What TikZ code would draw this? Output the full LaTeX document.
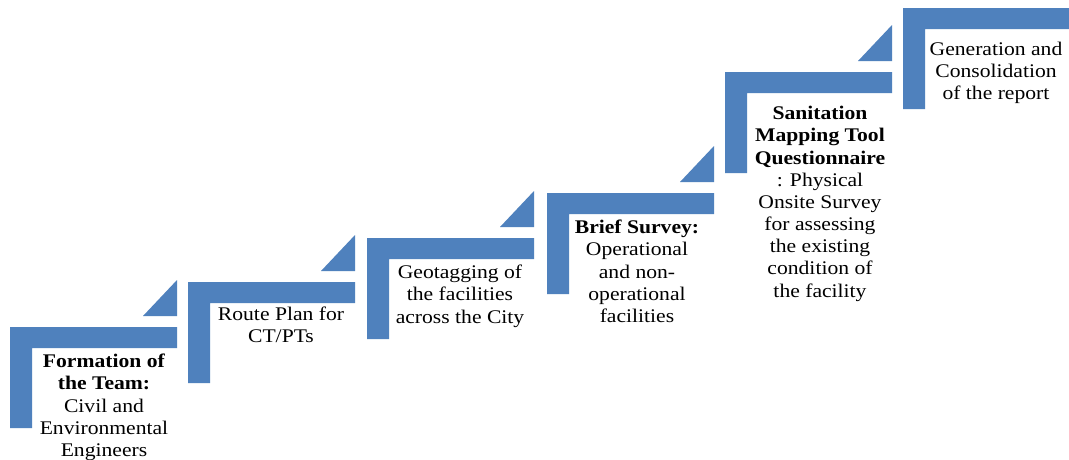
\documentclass[tikz,border=0pt]{standalone}
\usepackage{fontspec}
\setmainfont{Liberation Serif}[FakeStretch=1.12]
\definecolor{stepblue}{HTML}{4F81BD}
\tikzset{
  stepshape/.style={fill=stepblue, draw=none},
  steptext/.style={anchor=north, align=center, inner sep=0pt, font=\fontsize{19.3}{22.2}\selectfont, text=black}
}
\newcommand{\stepL}[2]{%
  \fill[stepshape] (#1,#2) -- ++(167,0) -- ++(0,21) -- ++(-145,0) -- ++(0,80) -- ++(-22,0) -- cycle;}
\newcommand{\stepTri}[2]{%
  \fill[stepshape] ({#1+167},{#2-11}) -- ++(0,-36) -- ++(-34,36) -- cycle;}
\begin{document}
\begin{tikzpicture}[x=1pt,y=-1pt]
\useasboundingbox (0,0) rectangle (1069,459);
\fill[white] (0,0) rectangle (1069,459);
% step shapes
\stepL{10}{327}\stepTri{10}{327}
\stepL{188}{282}\stepTri{188}{282}
\stepL{367}{238}\stepTri{367}{238}
\stepL{547}{193}\stepTri{547}{193}
\stepL{725}{72}\stepTri{725}{72}
\stepL{903}{8}
% texts
\node[steptext] (t1) at (104,354) {\textbf{Formation of}\\\textbf{the Team:}\\Civil and\\Environmental\\Engineers};
\node[steptext] (t2) at (281,307) {Route Plan for\\CT/PTs};
\node[steptext] (t3) at (460,265) {Geotagging of\\the facilities\\across the City};
\node[steptext] (t4) at (637,220) {\textbf{Brief Survey:}\\Operational\\and non-\\operational\\facilities};
\node[steptext] (t5) at (820,106) {\textbf{Sanitation}\\\textbf{Mapping Tool}\\\textbf{Questionnaire}\\: Physical\\Onsite Survey\\for assessing\\the existing\\condition of\\the facility};
\node[steptext] (t6) at (996,42) {Generation and\\Consolidation\\of the report};
\end{tikzpicture}
\end{document}
